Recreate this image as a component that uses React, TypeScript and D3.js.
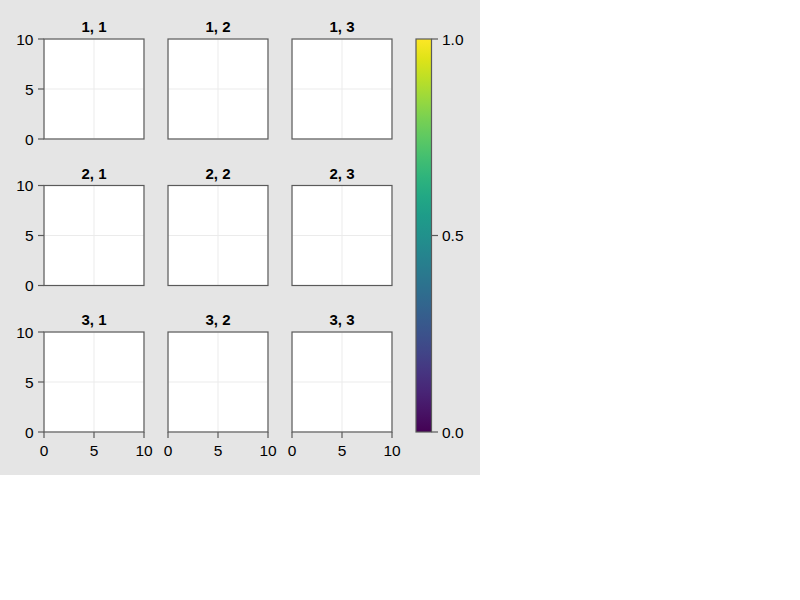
import React from "react";
import * as d3 from "d3";

const rows = [1, 2, 3];
const cols = [1, 2, 3];
const xTicks = [0, 5, 10];
const yTicks = [0, 5, 10];
const cbTicks = [0, 0.5, 1.0];
const cbTickLabels = ["0.0", "0.5", "1.0"];

const W = 800, H = 600;
const BG_W = 480, BG_H = 475;
const colLeft = [44, 168, 292];
const rowTop = [39, 185.5, 332];
const SIZE = 100;
const FONT = "'Liberation Sans', Arial, sans-serif";
const SPINE = "#5a5a5a";
const TICK_FS = 15.5;

export default function App() {
  const x = d3.scaleLinear().domain([0, 10]).range([0, SIZE]);
  const y = d3.scaleLinear().domain([0, 10]).range([SIZE, 0]);
  const cbY = d3.scaleLinear().domain([0, 1]).range([432, 39]);
  const stops = d3.range(0, 1.0001, 0.05);

  return (
    <svg width={W} height={H} style={{ position: "absolute", left: 0, top: 0 }} fontFamily={FONT}>
      <defs>
        <linearGradient id="viridis" x1="0" y1="1" x2="0" y2="0">
          {stops.map((s) => (
            <stop key={s} offset={s} stopColor={d3.interpolateViridis(s)} />
          ))}
        </linearGradient>
      </defs>
      <rect x={0} y={0} width={BG_W} height={BG_H} fill="#e5e5e5" />
      {rows.map((r, ri) =>
        cols.map((c, ci) => {
          const left = colLeft[ci];
          const top = rowTop[ri];
          return (
            <g key={`${r}-${c}`} transform={`translate(${left},${top})`}>
              <rect x={0} y={0} width={SIZE} height={SIZE} fill="#fff" />
              {xTicks.map((t) => (
                <line key={"gx" + t} x1={x(t)} x2={x(t)} y1={0} y2={SIZE} stroke="#ebebeb" strokeWidth={1} />
              ))}
              {yTicks.map((t) => (
                <line key={"gy" + t} x1={0} x2={SIZE} y1={y(t)} y2={y(t)} stroke="#ebebeb" strokeWidth={1} />
              ))}
              <rect x={0} y={0} width={SIZE} height={SIZE} fill="none" stroke={SPINE} strokeWidth={1.2} />
              <text x={SIZE / 2} y={-7} textAnchor="middle" fontWeight="bold" fontSize={15} fill="#000">
                {`${r}, ${c}`}
              </text>
              {ci === 0 &&
                yTicks.map((t) => (
                  <g key={"yt" + t}>
                    <line x1={-6} x2={0} y1={y(t)} y2={y(t)} stroke={SPINE} strokeWidth={1.2} />
                    <text x={-10.5} y={y(t)} dy="0.36em" textAnchor="end" fontSize={TICK_FS} fill="#000">
                      {t}
                    </text>
                  </g>
                ))}
              {ri === 2 &&
                xTicks.map((t) => (
                  <g key={"xt" + t}>
                    <line x1={x(t)} x2={x(t)} y1={SIZE} y2={SIZE + 6} stroke={SPINE} strokeWidth={1.2} />
                    <text x={x(t)} y={SIZE + 23.5} textAnchor="middle" fontSize={TICK_FS} fill="#000">
                      {t}
                    </text>
                  </g>
                ))}
            </g>
          );
        })
      )}
      <rect x={416} y={39} width={15.5} height={393} fill="url(#viridis)" stroke={SPINE} strokeWidth={1.2} />
      {cbTicks.map((t, i) => (
        <g key={"cb" + t}>
          <line x1={431.5} x2={438} y1={cbY(t)} y2={cbY(t)} stroke={SPINE} strokeWidth={1.2} />
          <text x={442} y={cbY(t)} dy="0.36em" fontSize={TICK_FS} fill="#000">
            {cbTickLabels[i]}
          </text>
        </g>
      ))}
    </svg>
  );
}
